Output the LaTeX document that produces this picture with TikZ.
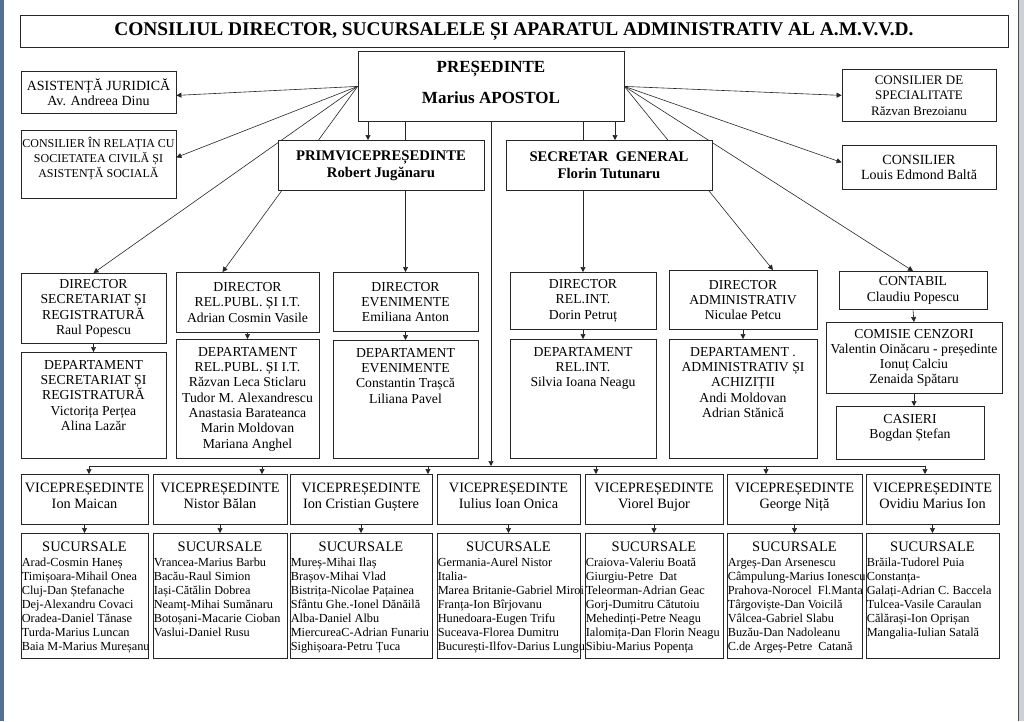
\documentclass[tikz,border=0pt]{standalone}
\usepackage{fontspec}
\setmainfont{Liberation Serif}
\usetikzlibrary{arrows.meta, positioning, backgrounds}

\definecolor{frameblue}{RGB}{84,110,150}
\definecolor{framegrey}{RGB}{205,208,214}

\begin{document}
\begin{tikzpicture}[x=1pt, y=-1pt, align=center]

    % Styles
    \tikzstyle{unit} = [draw=black!85, line width=0.8pt, fill=white, inner sep=0pt, anchor=north, font=\fontsize{13.7}{15.3}\selectfont]
    \tikzstyle{chief} = [unit, font=\fontsize{14.7}{17}\selectfont\bfseries]
    \tikzstyle{staff} = [inner sep=0pt, anchor=north, font=\fontsize{13.7}{15.3}\selectfont]
    \tikzstyle{vice} = [unit, minimum height=50pt, text depth=8pt, font=\fontsize{14.3}{16}\selectfont]
    \tikzstyle{branch} = [unit, minimum height=125pt]
    \tikzstyle{connection} = [-{Triangle[length=5pt, width=5pt]}, draw=black!85, line width=0.6pt]
    \tikzstyle{link} = [draw=black!85, line width=0.6pt]

    \useasboundingbox (0,0) rectangle (1024,721);

    % Title
    \node[unit, minimum width=988pt, minimum height=32pt, font=\fontsize{19.4}{21}\selectfont\bfseries] (title) at (514,15) {CONSILIUL DIRECTOR, SUCURSALELE ȘI APARATUL ADMINISTRATIV AL A.M.V.V.D.};

    % Management
    \node[unit, minimum width=266pt, minimum height=70pt, text depth=8pt, font=\fontsize{17}{19}\selectfont\bfseries] (pres) at (491,51) {PREȘEDINTE\\[12pt]Marius APOSTOL};
    \node[chief, minimum width=206pt, minimum height=50pt] (prim) at (381,140) {PRIMVICEPREȘEDINTE\\Robert Jugănaru};
    \node[chief, minimum width=206pt, minimum height=50pt] (secgen) at (609,140) {SECRETAR\ \ GENERAL\\Florin Tutunaru};

    % Advisers
    \node[unit, minimum width=155pt, minimum height=42pt, font=\fontsize{14}{15.3}\selectfont] (asist) at (98.5,71) {ASISTENȚĂ JURIDICĂ\\Av. Andreea Dinu};
    \node[unit, minimum width=155pt, minimum height=68pt] (consrel) at (98.5,130) {};
    \node[staff, font=\fontsize{12}{15}\selectfont, below=7pt of consrel.north] (consrel-t) {CONSILIER ÎN RELAȚIA CU\\SOCIETATEA CIVILĂ ȘI\\ASISTENȚĂ SOCIALĂ};
    \node[unit, minimum width=154pt, minimum height=52pt, font=\fontsize{13}{15.5}\selectfont] (spec) at (919,69) {CONSILIER DE\\SPECIALITATE\\Răzvan Brezoianu};
    \node[unit, minimum width=154pt, minimum height=44pt, font=\fontsize{14}{15.3}\selectfont] (cons) at (919,145) {CONSILIER\\Louis Edmond Baltă};

    % Directors
    \node[unit, minimum width=145pt, minimum height=70pt] (dsr) at (93.5,273) {DIRECTOR\\SECRETARIAT ȘI\\REGISTRATURĂ\\Raul Popescu};
    \node[unit, minimum width=143pt, minimum height=60pt] (drp) at (247.5,272) {DIRECTOR\\REL.PUBL. ȘI I.T.\\Adrian Cosmin Vasile};
    \node[unit, minimum width=145pt, minimum height=59pt] (dev) at (405.5,272) {DIRECTOR\\EVENIMENTE\\Emiliana Anton};
    \node[unit, minimum width=146pt, minimum height=57pt] (dri) at (583,272) {DIRECTOR\\REL.INT.\\Dorin Petruț};
    \node[unit, minimum width=148pt, minimum height=59pt] (dad) at (743,270) {DIRECTOR\\ADMINISTRATIV\\Niculae Petcu};
    \node[unit, minimum width=148pt, minimum height=38pt] (cont) at (913,271) {CONTABIL\\Claudiu Popescu};
    \node[unit, minimum width=176pt, minimum height=71pt] (comisie) at (914,322) {COMISIE CENZORI\\Valentin Oinăcaru - președinte\\Ionuț Calciu\\Zenaida Spătaru};

    % Departments
    \foreach \dep/\x/\y/\w/\h/\people in {
        depsr/93.5/352/145/106/{DEPARTAMENT\\SECRETARIAT ȘI\\REGISTRATURĂ\\Victorița Perțea\\Alina Lazăr},
        deprp/247.5/339/143/119/{DEPARTAMENT\\REL.PUBL. ȘI I.T.\\Răzvan Leca Sticlaru\\Tudor M. Alexandrescu\\Anastasia Barateanca\\Marin Moldovan\\Mariana Anghel},
        depev/405.5/340/145/118/{DEPARTAMENT\\EVENIMENTE\\Constantin Trașcă\\Liliana Pavel},
        depri/583/339/146/119/{DEPARTAMENT\\REL.INT.\\Silvia Ioana Neagu},
        depad/743/339/148/119/{DEPARTAMENT .\\ADMINISTRATIV ȘI\\ACHIZIȚII\\Andi Moldovan\\Adrian Stănică},
        casieri/910/406/148/53/{CASIERI\\Bogdan Ștefan}}
    {
        \node[unit, minimum width=\w pt, minimum height=\h pt] (\dep) at (\x,\y) {};
        \node[staff, below=8pt of \dep.north] (\dep-t) {\people};
    }

    % Vice-presidents and branches
    \foreach \i/\x/\w/\who/\towns in {
        1/84.5/127/{Ion Maican}/{Arad-Cosmin Haneș\\Timișoara-Mihail Onea\\Cluj-Dan Ștefanache\\Dej-Alexandru Covaci\\Oradea-Daniel Tănase\\Turda-Marius Luncan\\Baia M-Marius Mureșanu},
        2/220/134/{Nistor Bălan}/{Vrancea-Marius Barbu\\Bacău-Raul Simion\\Iași-Cătălin Dobrea\\Neamț-Mihai Sumănaru\\Botoșani-Macarie Cioban\\Vaslui-Daniel Rusu},
        3/361/142/{Ion Cristian Guștere}/{Mureș-Mihai Ilaș\\Brașov-Mihai Vlad\\Bistrița-Nicolae Pațainea\\Sfântu Ghe.-Ionel Dănăilă\\Alba-Daniel Albu\\MiercureaC-Adrian Funariu\\Sighișoara-Petru Țuca},
        4/508.5/143/{Iulius Ioan Onica}/{Germania-Aurel Nistor\\Italia-\\Marea Britanie-Gabriel Miroi\\Franța-Ion Bîrjovanu\\Hunedoara-Eugen Trifu\\Suceava-Florea Dumitru\\București-Ilfov-Darius Lungu},
        5/654/138/{Viorel Bujor}/{Craiova-Valeriu Boată\\Giurgiu-Petre\ \ Dat\\Teleorman-Adrian Geac\\Gorj-Dumitru Cătutoiu\\Mehedinți-Petre Neagu\\Ialomița-Dan Florin Neagu\\Sibiu-Marius Popența},
        6/794.5/135/{George Niță}/{Argeș-Dan Arsenescu\\Câmpulung-Marius Ionescu\\Prahova-Norocel\ \ Fl.Manta\\Târgoviște-Dan Voicilă\\Vâlcea-Gabriel Slabu\\Buzău-Dan Nadoleanu\\C.de Argeș-Petre\ \ Catană},
        7/932.5/133/{Ovidiu Marius Ion}/{Brăila-Tudorel Puia\\Constanța-\\Galați-Adrian C. Baccela\\Tulcea-Vasile Caraulan\\Călărași-Ion Oprișan\\Mangalia-Iulian Satală}}
    {
        \node[vice, minimum width=\w pt] (vp\i) at (\x,474) {VICEPREȘEDINTE\\\who};
        \node[branch, minimum width=\w pt] (suc\i) at (\x,533) {};
        \node[staff, font=\fontsize{14.5}{16}\selectfont, below=9pt of suc\i.north] (suc\i-h) {SUCURSALE};
        \node[staff, anchor=north west, align=left, font=\fontsize{12.3}{14}\selectfont] (suc\i-l) at ([xshift=1pt, yshift=-25pt]suc\i.north west) {\towns};
    }

    % Page and connections, behind the boxes
    \begin{scope}[on background layer]
        \fill[white] (0,0) rectangle (1024,721);
        \fill[frameblue] (0,0) rectangle (4,721);
        \fill[framegrey] (1018,0) rectangle (1024,721);
        \draw[black!70, line width=1pt] (1018,0) -- (1018,721);

        % President to advisers and directors
        \draw[connection] (pres.west) -- ([yshift=-3pt]asist.east);
        \draw[connection] (pres.west) -- ([yshift=7pt]consrel.east);
        \draw[connection] (pres.west) -- (dsr.north);
        \draw[connection] (pres.west) -- ([xshift=-25pt]drp.north);
        \draw[connection] (pres.east) -- (spec.west);
        \draw[connection] (pres.east) -- ([yshift=5pt]cons.west);
        \draw[connection] (pres.east) -- ([xshift=30pt]dad.north);
        \draw[connection] (pres.east) -- (cont.north);

        % President downwards
        \draw[connection] ([xshift=-13pt]prim.north |- pres.south) -- ([xshift=-13pt]prim.north);
        \draw[connection] ([xshift=6pt]secgen.north |- pres.south) -- ([xshift=6pt]secgen.north);
        \draw[connection] (dev.north |- pres.south) -- (dev.north);
        \draw[connection] (dri.north |- pres.south) -- (dri.north);

        % Line to the vice-presidents
        \coordinate (busL) at (89,466);
        \coordinate (busR) at (925,466);
        \draw[link] (busL) -- (busR);
        \draw[connection] (pres.south) -- (pres.south |- busL);
        \foreach \i/\x in {1/89, 2/262, 3/428, 5/596, 6/766, 7/925}
        {
            \coordinate (bus\i) at (\x,466);
            \draw[connection] (bus\i) -- (bus\i |- vp\i.north);
        }

        % Directors to departments
        \foreach \a/\b in {dsr/depsr, drp/deprp, dev/depev, dri/depri, dad/depad, cont/comisie}
            \draw[connection] (\a.south) -- (\b.north);
        \draw[connection] (comisie.south) -- (comisie.south |- casieri.north);

        % Vice-presidents to branches
        \foreach \i in {1,...,7}
            \draw[connection] (vp\i) -- (suc\i);
    \end{scope}

\end{tikzpicture}
\end{document}
